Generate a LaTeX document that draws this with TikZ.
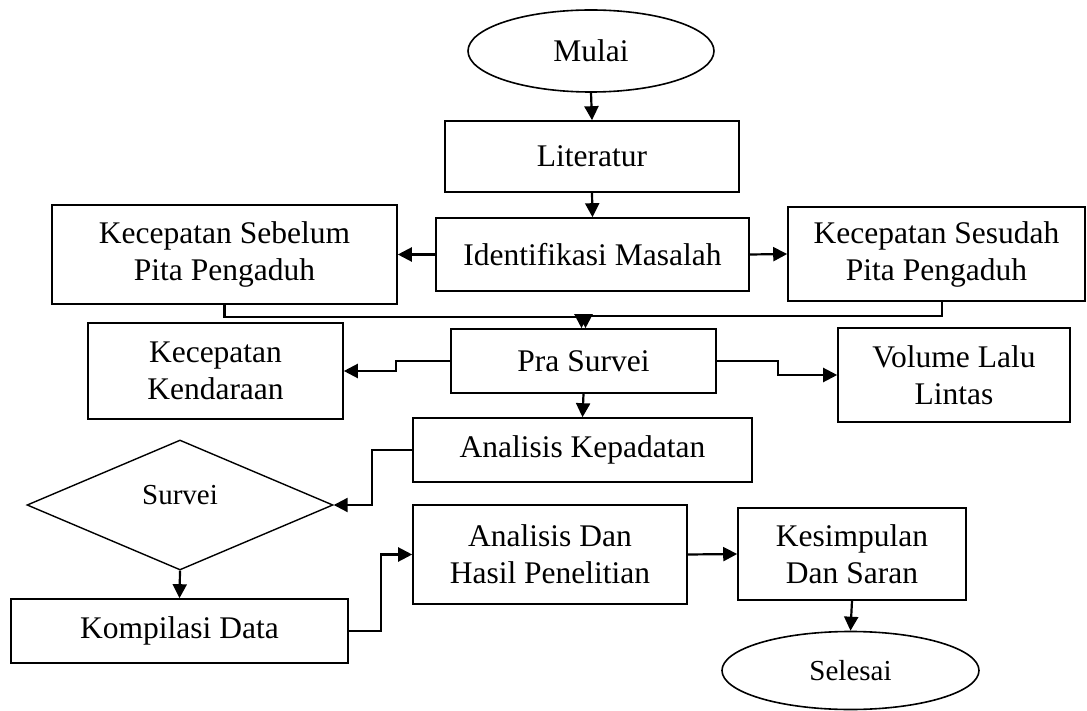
\documentclass[tikz,border=0pt]{standalone}
\usepackage{fontspec}
\setmainfont{Liberation Serif}
\usetikzlibrary{arrows.meta,shapes.geometric}
\tikzset{
  boxnode/.style={draw, line width=1.6pt, rectangle, inner sep=0pt, align=center,
    font=\fontsize{31.5pt}{37pt}\selectfont},
  ovalnode/.style={draw, line width=1.6pt, ellipse, inner sep=0pt, align=center},
  decnode/.style={draw, line width=1.4pt, diamond, inner sep=0pt, align=center,
    font=\fontsize{29pt}{34pt}\selectfont},
  conn/.style={line width=2.2pt, -{Triangle[length=14pt,width=14pt]}}
}
\begin{document}
\begin{tikzpicture}[x=1pt,y=1pt]
\useasboundingbox (0,0) rectangle (1087,-711);
\node[ovalnode, minimum width=246pt, minimum height=82pt, font=\fontsize{31.5pt}{37pt}\selectfont] (mulai) at (591,-51) {Mulai};
\node[boxnode, minimum width=294pt, minimum height=71pt] (lit) at (592,-156.5) {Literatur};
\node[boxnode, minimum width=313pt, minimum height=73pt] (ident) at (592.5,-254.5) {Identifikasi Masalah};
\node[boxnode, minimum width=345pt, minimum height=99pt] (sebelum) at (224.5,-254.5) {Kecepatan Sebelum\\Pita Pengaduh};
\node[boxnode, minimum width=297pt, minimum height=94pt] (sesudah) at (936.5,-254) {Kecepatan Sesudah\\Pita Pengaduh};
\node[boxnode, minimum width=265pt, minimum height=64pt] (pra) at (583.5,-361) {Pra Survei};
\node[boxnode, minimum width=255pt, minimum height=96pt] (kend) at (215.5,-371) {Kecepatan\\Kendaraan};
\node[boxnode, minimum width=232pt, minimum height=94pt] (vol) at (954,-375) {Volume Lalu\\Lintas};
\node[boxnode, minimum width=339pt, minimum height=64pt] (kep) at (582.5,-450) {Analisis Kepadatan};
\node[decnode, minimum width=306pt, minimum height=130pt] (survei) at (180,-505) {\raisebox{20pt}{Survei}};
\node[boxnode, minimum width=337pt, minimum height=64pt] (komp) at (179.5,-631) {Kompilasi Data};
\node[boxnode, minimum width=274pt, minimum height=99pt] (hasil) at (550,-554.5) {Analisis Dan\\Hasil Penelitian};
\node[boxnode, minimum width=228pt, minimum height=92pt] (kesimp) at (852,-554) {Kesimpulan\\Dan Saran};
\node[ovalnode, minimum width=257pt, minimum height=78pt, font=\fontsize{29pt}{34pt}\selectfont] (selesai) at (850.5,-670.5) {Selesai};

\draw[conn] (mulai.south) -- (lit.north);
\draw[conn] (lit.south) -- (ident.north);
\draw[conn] (ident.west) -- (sebelum.east);
\draw[conn] (ident.east) -- (sesudah.west);
\draw[conn] (sebelum.south) -- ++(0,-12) -| ([xshift=-2pt]pra.north);
\draw[conn] ([xshift=5.5pt]sesudah.south) -- ++(0,-14) -| ([xshift=2pt]pra.north);
\draw[conn] (pra.west) -- ++(-54,0) |- (kend.east);
\draw[conn] (pra.east) -- ++(61,0) |- (vol.west);
\draw[conn] (pra.south) -- (kep.north);
\draw[conn] (kep.west) -- ++(-40,0) |- (survei.east);
\draw[conn] (survei.south) -- (komp.north);
\draw[conn] (komp.east) -- ++(32,0) |- (hasil.west);
\draw[conn] (hasil.east) -- (kesimp.west);
\draw[conn] (kesimp.south) -- (selesai.north);
\end{tikzpicture}
\end{document}
